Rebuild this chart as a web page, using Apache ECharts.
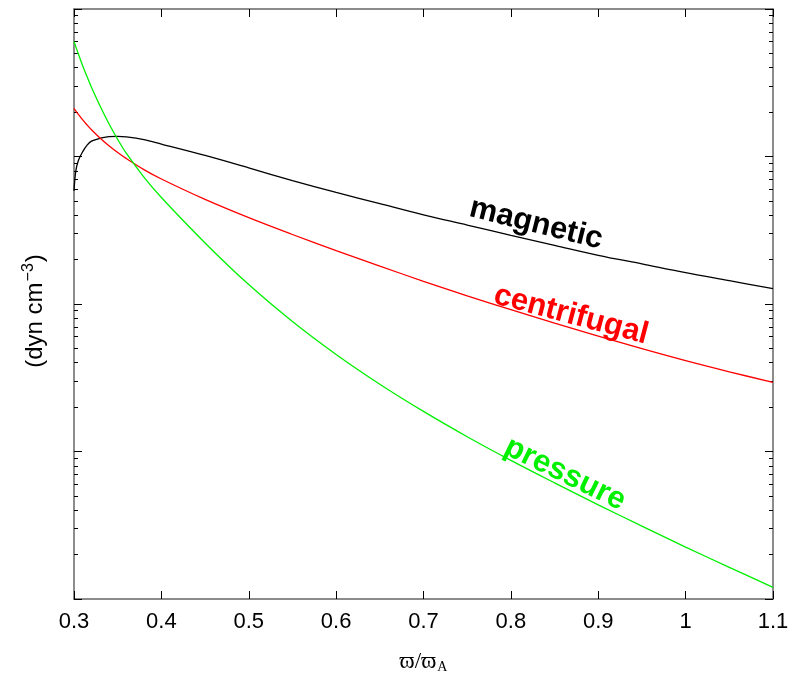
<!DOCTYPE html>
<html>
<head>
<meta charset="utf-8">
<script src="https://cdn.jsdelivr.net/npm/echarts@6/dist/echarts.min.js"></script>
<style>
    html, body { margin: 0; padding: 0; background: #fff; }
    #main { width: 801px; height: 679px; }
</style>
</head>
<body>
<div id="main"></div>
<script>
    // radius in units of the Alfven radius
    const xValues = [0.300, 0.302, 0.305, 0.310, 0.315, 0.320, 0.330, 0.340, 0.350, 0.360, 0.380, 0.400,
        0.45, 0.50, 0.55, 0.60, 0.65, 0.70, 0.75, 0.80, 0.85, 0.90, 0.95, 1.00, 1.05, 1.10];
    // force densities (arbitrary log units)
    const magnetic = [585, 793, 940, 1080, 1195, 1271, 1331, 1362, 1370, 1358, 1300, 1213,
        1016, 837, 687, 571, 479, 402, 343, 292, 250, 214, 187, 163, 144, 127];
    const centrifugal = [2123, 2042, 1932, 1771, 1635, 1518, 1329, 1182, 1064, 967, 815, 704,
        512, 385, 296, 230, 180.6, 142.6, 113.6, 91.5, 74.2, 60.6, 49.8, 41.3, 34.7, 29.4];
    const pressure = [6033, 5575, 4949, 4113, 3470, 2950, 2190, 1666, 1306, 1049, 725, 527,
        259.5, 135.4, 76.1, 45.5, 28.6, 18.7, 12.6, 8.71, 6.13, 4.35, 3.12, 2.25, 1.64, 1.20];

    const yMajor = [1, 10, 100, 1000, 10000];
    const yMinor = [];
    for (let d = 1; d < 10000; d *= 10) {
        for (let m = 2; m <= 9; m++) yMinor.push(m * d);
    }

    const chart = echarts.init(document.getElementById('main'));
    const font = 'Liberation Sans, Arial, sans-serif';
    const serif = 'Liberation Serif, DejaVu Serif, serif';

    function pairs(arr) {
        return xValues.map(function (x, i) { return [x, arr[i]]; });
    }

    function yAx(pos, ticks, len, showLine, extra) {
        return Object.assign({
            type: 'log', logBase: 10, min: 1, max: 10000, position: pos,
            axisLine: { show: showLine, lineStyle: { color: '#666', width: 1.5 } },
            axisTick: { inside: true, length: len, customValues: ticks, lineStyle: { color: '#000', width: 1 } },
            axisLabel: { show: false },
            splitLine: { show: false }
        }, extra || {});
    }

    function lineSeries(name, data, color) {
        return {
            name: name, type: 'line', data: pairs(data), showSymbol: false, smooth: 0.35,
            lineStyle: { color: color, width: 1.3 }, itemStyle: { color: color }, silent: true
        };
    }

    const option = {
        animation: false,
        backgroundColor: '#fff',
        grid: { left: 74, right: 28, top: 9, bottom: 75 },
        xAxis: [{
            type: 'value', min: 0.3, max: 1.1, interval: 0.1, position: 'bottom',
            axisLine: { lineStyle: { color: '#666', width: 1.5 } },
            axisTick: { inside: true, length: 8, lineStyle: { color: '#000' } },
            axisLabel: { color: '#000', fontSize: 22, fontFamily: font, margin: 12 },
            splitLine: { show: false },
            name: '{v|ϖ/ϖ}{s|A}', nameLocation: 'middle', nameGap: 50,
            nameTextStyle: {
                rich: {
                    v: { fontSize: 23, fontFamily: serif, color: '#000' },
                    s: { fontSize: 14, fontFamily: serif, color: '#000', padding: [11, 0, 0, 1] }
                }
            }
        }, {
            type: 'value', min: 0.3, max: 1.1, interval: 0.1, position: 'top',
            axisLine: { lineStyle: { color: '#666', width: 1.5 } },
            axisTick: { inside: true, length: 8, lineStyle: { color: '#000' } },
            axisLabel: { show: false },
            splitLine: { show: false }
        }],
        yAxis: [
            yAx('left', yMajor, 8, true, {
                name: '{n|(dyn cm}{p|−3}{n|)}', nameLocation: 'middle', nameGap: 24, nameRotate: 90,
                nameTextStyle: {
                    padding: [0, 14, 0, 0],
                    rich: {
                        n: { fontSize: 24, fontFamily: font, color: '#000' },
                        p: { fontSize: 16, fontFamily: font, color: '#000', padding: [0, 1, 13, 1] }
                    }
                }
            }),
            yAx('left', yMinor, 4, false),
            yAx('right', yMajor, 8, true),
            yAx('right', yMinor, 4, false)
        ],
        series: [
            lineSeries('magnetic', magnetic, '#000000'),
            lineSeries('centrifugal', centrifugal, '#ff0000'),
            lineSeries('pressure', pressure, '#00f000')
        ],
        graphic: [
            { type: 'text', x: 536, y: 224, rotation: -0.244, style: { text: 'magnetic', fill: '#000', font: 'bold 31px ' + font, align: 'center', verticalAlign: 'middle' } },
            { type: 'text', x: 571, y: 315, rotation: -0.26, style: { text: 'centrifugal', fill: '#ff0000', font: 'bold 31px ' + font, align: 'center', verticalAlign: 'middle' } },
            { type: 'text', x: 565, y: 474, rotation: -0.454, style: { text: 'pressure', fill: '#00f000', font: 'bold 31px ' + font, align: 'center', verticalAlign: 'middle' } }
        ]
    };
    chart.setOption(option);
</script>
</body>
</html>
